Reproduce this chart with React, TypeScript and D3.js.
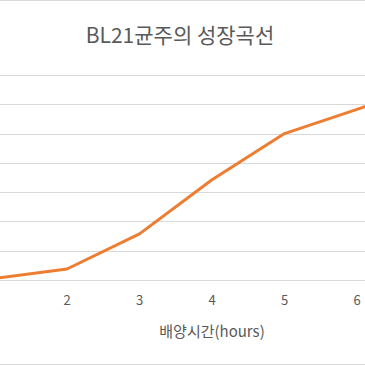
import { useEffect, useRef } from "react";
import * as d3 from "d3";

// 배양시간 (hours) 와 측정값
const hours = [1, 2, 3, 4, 5, 6, 7];
const growth = [0.01, 0.075, 0.315, 0.685, 1.0, 1.165, 1.34];
const yTicks = [0, 0.2, 0.4, 0.6, 0.8, 1.0, 1.2, 1.4];

const W = 365;
const H = 365;

export default function App() {
  const ref = useRef<SVGSVGElement>(null);

  useEffect(() => {
    const svg = d3.select(ref.current);
    svg.selectAll("*").remove();

    const x = d3.scaleLinear().domain([1, 7]).range([-5.5, 429.5]);
    const y = d3.scaleLinear().domain([0, 1.4]).range([280, 75]);
    const font = "'Noto Sans CJK KR', 'Noto Sans', sans-serif";

    svg.append("rect").attr("width", W).attr("height", H).attr("fill", "#fff");

    // chart border (top / bottom)
    svg.append("line").attr("x1", 0).attr("x2", W).attr("y1", 0.5).attr("y2", 0.5).attr("stroke", "#d9d9d9");
    svg.append("line").attr("x1", 0).attr("x2", W).attr("y1", 364.5).attr("y2", 364.5).attr("stroke", "#d9d9d9");

    // gridlines
    svg
      .append("g")
      .selectAll("line")
      .data(yTicks)
      .enter()
      .append("line")
      .attr("x1", 0)
      .attr("x2", W)
      .attr("y1", (d) => Math.round(y(d)) + 0.5)
      .attr("y2", (d) => Math.round(y(d)) + 0.5)
      .attr("stroke", "#d9d9d9")
      .attr("stroke-width", 1);

    // x tick labels (only those inside the visible crop)
    svg
      .append("g")
      .selectAll("text")
      .data(hours.filter((d) => x(d) > 5 && x(d) < W - 5))
      .enter()
      .append("text")
      .attr("x", (d) => x(d))
      .attr("y", 305)
      .attr("text-anchor", "middle")
      .attr("font-family", font)
      .attr("font-size", 13)
      .attr("fill", "#595959")
      .text((d) => d);

    // line
    const line = d3
      .line<number>()
      .x((d, i) => x(hours[i]))
      .y((d) => y(d));
    svg
      .append("path")
      .datum(growth)
      .attr("d", line)
      .attr("fill", "none")
      .attr("stroke", "#ED7D31")
      .attr("stroke-width", 3)
      .attr("stroke-linejoin", "round")
      .attr("stroke-linecap", "round");

    // title
    svg
      .append("text")
      .attr("x", 180)
      .attr("y", 43)
      .attr("text-anchor", "middle")
      .attr("font-family", font)
      .attr("font-size", 21)
      .attr("fill", "#595959")
      .text("BL21균주의 성장곡선");

    // axis title
    svg
      .append("text")
      .attr("x", 212)
      .attr("y", 337)
      .attr("text-anchor", "middle")
      .attr("font-family", font)
      .attr("font-size", 15)
      .attr("fill", "#595959")
      .text("배양시간(hours)");
  }, []);

  return (
    <svg
      ref={ref}
      width={W}
      height={H}
      style={{ position: "absolute", left: 0, top: 0, display: "block" }}
    />
  );
}
